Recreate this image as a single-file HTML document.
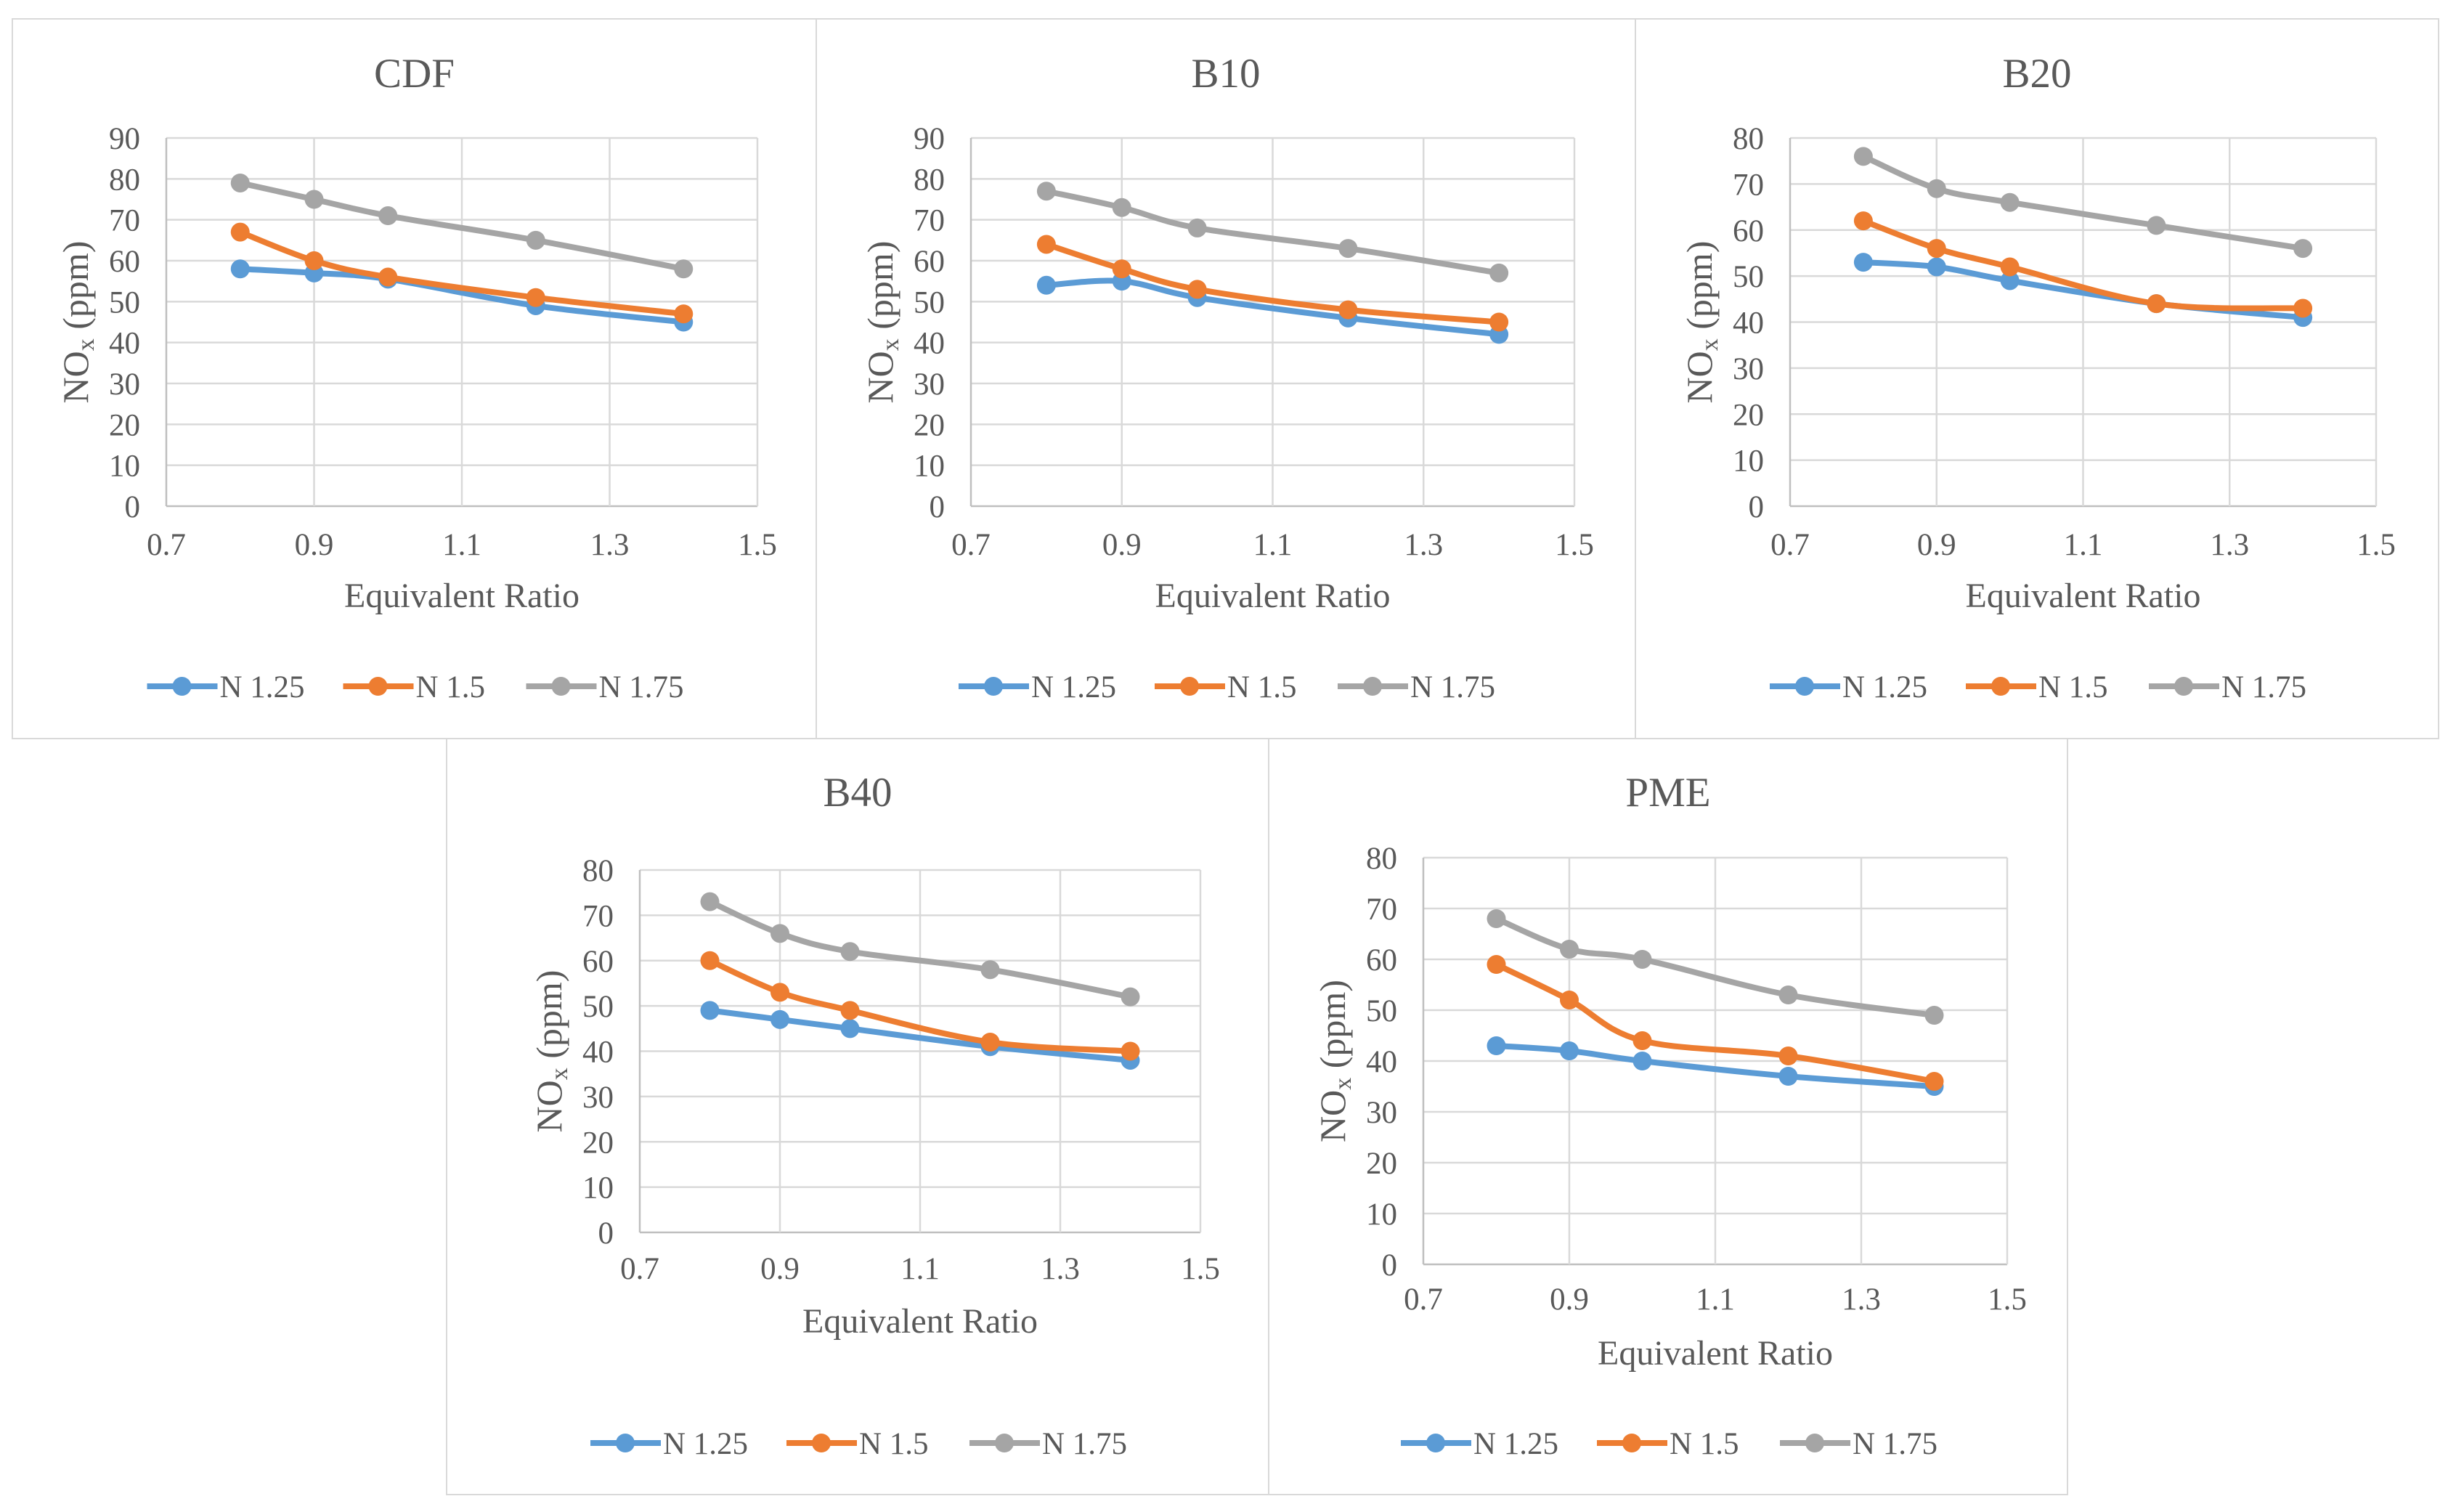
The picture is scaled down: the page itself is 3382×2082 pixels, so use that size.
<!DOCTYPE html>
<html><head><meta charset="utf-8">
<style>
html,body{margin:0;padding:0;background:#fff;}
svg{display:block;font-family:"Liberation Serif","DejaVu Serif",serif;}
</style></head>
<body>
<svg id="fig" width="3382" height="2082" viewBox="0 0 3382 2082" xmlns="http://www.w3.org/2000/svg"></svg>
<script>
// ---- data ----
const xValues = [0.8, 0.9, 1.0, 1.2, 1.4];
const xTicks = [0.7, 0.9, 1.1, 1.3, 1.5];
const xTickLabels = ["0.7", "0.9", "1.1", "1.3", "1.5"];
const seriesNames = ["N 1.25", "N 1.5", "N 1.75"];
const chartTitles = ["CDF", "B10", "B20", "B40", "PME"];
const yMaxes = [90, 90, 80, 80, 80];
const cdfN125 = [58, 57, 55.5, 49, 45];
const cdfN15 = [67, 60, 56, 51, 47];
const cdfN175 = [79, 75, 71, 65, 58];
const b10N125 = [54, 55, 51, 46, 42];
const b10N15 = [64, 58, 53, 48, 45];
const b10N175 = [77, 73, 68, 63, 57];
const b20N125 = [53, 52, 49, 44, 41];
const b20N15 = [62, 56, 52, 44, 43];
const b20N175 = [76, 69, 66, 61, 56];
const b40N125 = [49, 47, 45, 41, 38];
const b40N15 = [60, 53, 49, 42, 40];
const b40N175 = [73, 66, 62, 58, 52];
const pmeN125 = [43, 42, 40, 37, 35];
const pmeN15 = [59, 52, 44, 41, 36];
const pmeN175 = [68, 62, 60, 53, 49];
const allSeries = [
  [cdfN125, cdfN15, cdfN175],
  [b10N125, b10N15, b10N175],
  [b20N125, b20N15, b20N175],
  [b40N125, b40N15, b40N175],
  [pmeN125, pmeN15, pmeN175]
];
</script>
<script>
const NS = "http://www.w3.org/2000/svg";
const svg = document.getElementById("fig");
const colors = ["#5B9BD5", "#ED7D31", "#A5A5A5"];
const textCol = "#595959";
const layouts = [
  {panel:[17,26,1124,1017], plot:[229,190,1043,697], title:100, xt:749, xtitle:820, leg:945},
  {panel:[1124,26,2252,1017], plot:[1337,190,2168,697], title:100, xt:749, xtitle:820, leg:945},
  {panel:[2252,26,3358,1017], plot:[2465,190,3272,697], title:100, xt:749, xtitle:820, leg:945},
  {panel:[615,1017,1747,2058], plot:[881,1198,1653,1697], title:1090, xt:1746, xtitle:1819, leg:1987},
  {panel:[1747,1017,2847,2058], plot:[1960,1181,2764,1741], title:1090, xt:1788, xtitle:1863, leg:1987}
];
function mk(tag, attrs, parent){
  const e = document.createElementNS(NS, tag);
  for (const k in attrs) e.setAttribute(k, attrs[k]);
  (parent||svg).appendChild(e);
  return e;
}
function smoothPath(pts){
  let d = "M" + pts[0][0] + "," + pts[0][1];
  const t = 0.17;
  for (let i=0;i<pts.length-1;i++){
    const p0 = pts[i-1]||pts[i], p1=pts[i], p2=pts[i+1], p3=pts[i+2]||pts[i+1];
    const c1x = p1[0]+(p2[0]-p0[0])*t, c1y=p1[1]+(p2[1]-p0[1])*t;
    const c2x = p2[0]-(p3[0]-p1[0])*t, c2y=p2[1]-(p3[1]-p1[1])*t;
    d += " C"+c1x+","+c1y+" "+c2x+","+c2y+" "+p2[0]+","+p2[1];
  }
  return d;
}
layouts.forEach((L, ci) => {
  const g = mk("g", {});
  
  
  const [pl,pt,pr,pb] = L.panel;
  const border = mk("rect", {x:pl, y:pt, width:pr-pl, height:pb-pt, fill:"none", stroke:"#D9D9D9", "stroke-width":2}, g);
  
  
  const [x0,y0,x1,y1] = L.plot;
  const ymax = yMaxes[ci];
  const sx = v => x0 + (v-0.7)/(1.5-0.7)*(x1-x0);
  const sy = v => y1 - v/ymax*(y1-y0);
  for (let v=0; v<=ymax; v+=10){
    const ln = mk("line", {x1:x0, x2:x1, y1:sy(v), y2:sy(v), stroke: v===0?"#BFBFBF":"#D9D9D9", "stroke-width":2.5}, g);
    
    
    const tx = mk("text", {x:x0-36, y:sy(v)+15, "text-anchor":"end", "font-size":43, fill:textCol}, g);
    tx.textContent = String(v);
    
    
  }
  xTicks.forEach((v,i) => {
    const ln = mk("line", {x1:sx(v), x2:sx(v), y1:y0, y2:y1, stroke: i===0?"#BFBFBF":"#D9D9D9", "stroke-width":2.5}, g);
    
    
    const tx = mk("text", {x:sx(v), y:L.xt+15, "text-anchor":"middle", "font-size":43, fill:textCol}, g);
    tx.textContent = xTickLabels[i];
    
    
  });
  const tt = mk("text", {x:(pl+pr)/2, y:L.title+20, "text-anchor":"middle", "font-size":57, fill:textCol}, g);
  tt.textContent = chartTitles[ci];
  
  
  const xt = mk("text", {x:(x0+x1)/2, y:L.xtitle+16, "text-anchor":"middle", "font-size":48, fill:textCol}, g);
  xt.textContent = "Equivalent Ratio";
  
  
  const yc = (y0+y1)/2, yx = x0 - 108;
  const yt = mk("text", {x:yx, y:yc, "text-anchor":"middle", "font-size":50, fill:textCol, transform:"rotate(-90 "+yx+" "+yc+")"}, g);
  
  
  const s1 = mk("tspan", {}, yt); s1.textContent = "NO";
  const s2 = mk("tspan", {"font-size":34, dy:8}, yt); s2.textContent = "x";
  const s3 = mk("tspan", {dy:-8}, yt); s3.textContent = " (ppm)";
  allSeries[ci].forEach((vals, si) => {
    const sg = mk("g", {}, g);
    
    
    const pts = vals.map((v,i) => [sx(xValues[i]), sy(v)]);
    const p = mk("path", {d:smoothPath(pts), fill:"none", stroke:colors[si], "stroke-width":8, "stroke-linejoin":"round"}, sg);
    
    
    pts.forEach(q => {
      const c = mk("circle", {cx:q[0], cy:q[1], r:13, fill:colors[si]}, sg);
      
      
    });
  });
  const lg = mk("g", {}, g);
  
  
  const offs = [0, 270, 522];
  const cx = (pl+pr)/2;
  const start = cx - 368;
  seriesNames.forEach((nm, si) => {
    const lx = start + offs[si];
    const e = mk("g", {}, lg);
    
    
    mk("line", {x1:lx, x2:lx+97, y1:L.leg, y2:L.leg, stroke:colors[si], "stroke-width":8}, e);
    mk("circle", {cx:lx+48, cy:L.leg, r:13, fill:colors[si]}, e);
    const t = mk("text", {x:lx+100, y:L.leg+15, "font-size":43, fill:textCol}, e);
    t.textContent = nm;
  });
});
</script>
</body></html>
